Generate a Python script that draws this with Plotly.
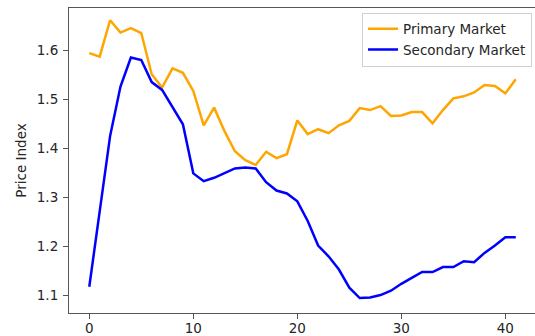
import plotly.graph_objects as go

# Monthly price index, periods 0..41
periods = list(range(42))

primary_market = [
    1.594, 1.587, 1.661, 1.636, 1.645, 1.635, 1.551, 1.524, 1.563, 1.554,
    1.517, 1.447, 1.483, 1.435, 1.394, 1.376, 1.366, 1.393, 1.380, 1.388,
    1.457, 1.429, 1.439, 1.431, 1.447, 1.456, 1.482, 1.478, 1.486, 1.466,
    1.467, 1.474, 1.474, 1.451, 1.478, 1.502, 1.506, 1.514, 1.529, 1.527,
    1.512, 1.541,
]

secondary_market = [
    1.118, 1.275, 1.425, 1.526, 1.585, 1.580, 1.535, 1.519, 1.485, 1.449,
    1.349, 1.333, 1.340, 1.349, 1.359, 1.361, 1.359, 1.331, 1.314, 1.308,
    1.292, 1.252, 1.202, 1.180, 1.153, 1.116, 1.095, 1.096, 1.101, 1.110,
    1.124, 1.136, 1.148, 1.148, 1.158, 1.158, 1.170, 1.168, 1.187, 1.202,
    1.219, 1.219,
]

x_ticks = [0, 10, 20, 30, 40]
y_ticks = [1.1, 1.2, 1.3, 1.4, 1.5, 1.6]

FONT = dict(family="DejaVu Sans", size=13.5, color="#262626")

fig = go.Figure()
fig.add_trace(go.Scatter(
    x=periods, y=primary_market, mode="lines", name="Primary Market",
    line=dict(color="#FFA500", width=2.5),
))
fig.add_trace(go.Scatter(
    x=periods, y=secondary_market, mode="lines", name="Secondary Market",
    line=dict(color="#0000FF", width=2.5),
))

axis_common = dict(
    showgrid=False, zeroline=False, showline=True, linecolor="#555555",
    linewidth=1.1, ticks="outside", ticklen=5, tickwidth=1.1, tickcolor="#555555",
    tickfont=FONT, automargin=False,
)

fig.update_layout(
    width=535, height=336,
    margin=dict(l=69, r=0, t=8, b=23),
    paper_bgcolor="white", plot_bgcolor="white",
    font=FONT,
    xaxis=dict(range=[-1.95, 42.85], tickvals=x_ticks, mirror=True,
               ticklabelstandoff=-2, **axis_common),
    yaxis=dict(
        range=[1.0645, 1.686], tickvals=y_ticks, tickformat=".1f", mirror=False,
        ticklabelstandoff=2,
        title=dict(text="Price Index", standoff=7, font=FONT),
        **axis_common,
    ),
    legend=dict(
        x=0.9936, y=0.985, xanchor="right", yanchor="top",
        bgcolor="rgba(255,255,255,0.8)", bordercolor="#d0d0d0", borderwidth=1,
        font=FONT, tracegroupgap=0,
    ),
    showlegend=True,
)

fig.write_html("out.html")
